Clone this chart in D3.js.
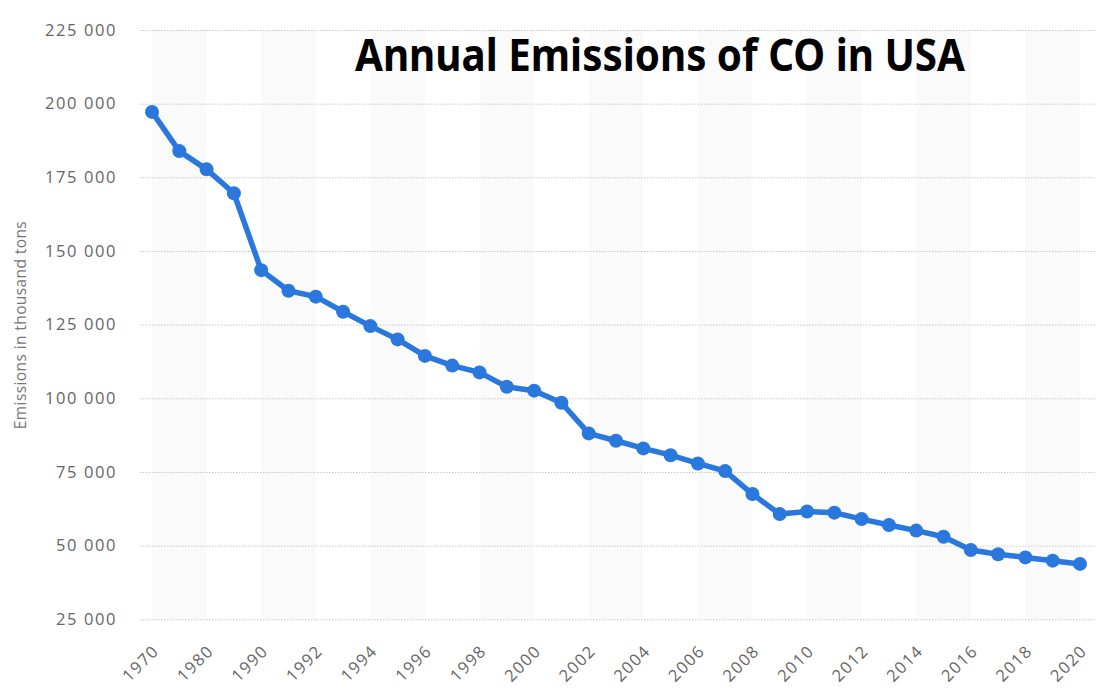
<!DOCTYPE html>
<html>
<head>
<meta charset="utf-8">
<script src="https://cdn.jsdelivr.net/npm/d3@7"></script>
<style>
  html, body { margin: 0; padding: 0; background: #fff; }
  svg { display: block; }
</style>
</head>
<body>
<svg id="chart" width="1096" height="692"></svg>
<script>
const years = ["1970","1975","1980","1985","1990","1991","1992","1993","1994","1995","1996","1997","1998","1999","2000","2001","2002","2003","2004","2005","2006","2007","2008","2009","2010","2011","2012","2013","2014","2015","2016","2017","2018","2019","2020"];
const emissions = [197200,183900,177700,169600,143500,136500,134500,129400,124500,120000,114400,111100,108800,103900,102600,98500,88100,85600,83000,80700,77900,75300,67500,60700,61600,61200,59000,57000,55100,53000,48500,47100,46000,44900,43800];
const yTicks = [25000,50000,75000,100000,125000,150000,175000,200000,225000];
const xTickLabels = years.filter((d, i) => i % 2 === 0);
const title = "Annual Emissions of CO in USA";
const yTitle = "Emissions in thousand tons";

const svg = d3.select("#chart");
const plotLeft = 140, plotRight = 1095;

const x = d3.scalePoint().domain(years).range([152, 1080]);
const y = d3.scaleLinear().domain([25000, 225000]).range([619.3, 30]);

// alternating background bands (every other pair of categories)
const bandStarts = years.filter((d, i) => i % 4 === 0 && i + 2 < years.length);
svg.append("g").selectAll("rect").data(bandStarts).join("rect")
  .attr("x", d => x(d))
  .attr("width", d => x(years[years.indexOf(d) + 2]) - x(d))
  .attr("y", y(225000))
  .attr("height", y(25000) - y(225000))
  .attr("fill", "#fafafa");

// gridlines
const grid = svg.append("g")
  .attr("transform", `translate(${plotLeft},0)`)
  .call(d3.axisLeft(y).tickValues(yTicks).tickSize(-(plotRight - plotLeft)).tickFormat(""));
grid.select(".domain").remove();
grid.selectAll("line").attr("stroke", "#c8c8c8").attr("stroke-dasharray", "1.5,1.5");

// y axis labels
const fmt = d => d3.format(",")(d).replace(/,/g, " ");
const yAxis = svg.append("g")
  .attr("transform", "translate(117,0)")
  .call(d3.axisLeft(y).tickValues(yTicks).tickSize(0).tickPadding(0).tickFormat(fmt));
yAxis.select(".domain").remove();
yAxis.selectAll("text")
  .attr("fill", "#666")
  .style("font-family", "'Open Sans', sans-serif")
  .style("font-size", "16.5px")
  .style("letter-spacing", "1.6px");

// x axis labels
const xAxis = svg.append("g")
  .call(d3.axisBottom(x).tickValues(xTickLabels).tickSize(0).tickFormat(d => d));
xAxis.select(".domain").remove();
xAxis.selectAll(".tick").attr("transform", d => `translate(${x(d) + 8},652)`);
xAxis.selectAll("text")
  .attr("y", 0).attr("dy", "0")
  .attr("transform", "rotate(-45)")
  .attr("text-anchor", "end")
  .attr("fill", "#666")
  .style("font-family", "'Open Sans', sans-serif")
  .style("font-size", "16.5px")
  .style("letter-spacing", "1.4px");

// y title
svg.append("text")
  .attr("transform", `translate(26,325) rotate(-90)`)
  .attr("text-anchor", "middle")
  .attr("fill", "#777")
  .style("font-family", "'Open Sans', sans-serif")
  .style("font-size", "15.5px")
  .style("letter-spacing", "0.4px")
  .text(yTitle);

// line
const line = d3.line().x((d, i) => x(years[i])).y(d => y(d));
svg.append("path")
  .datum(emissions)
  .attr("d", line)
  .attr("fill", "none")
  .attr("stroke", "#2a78de")
  .attr("stroke-width", 5.5)
  .attr("stroke-linejoin", "round");

svg.append("g").selectAll("circle").data(emissions).join("circle")
  .attr("cx", (d, i) => x(years[i]))
  .attr("cy", d => y(d))
  .attr("r", 7)
  .attr("fill", "#2a78de");

// title
svg.append("text")
  .attr("x", 355)
  .attr("y", 71)
  .attr("textLength", 610)
  .attr("lengthAdjust", "spacingAndGlyphs")
  .attr("fill", "#000")
  .style("font-family", "'Noto Sans', sans-serif")
  .style("font-weight", "bold")
  .style("font-size", "45px")
  .text(title);
</script>
</body>
</html>
